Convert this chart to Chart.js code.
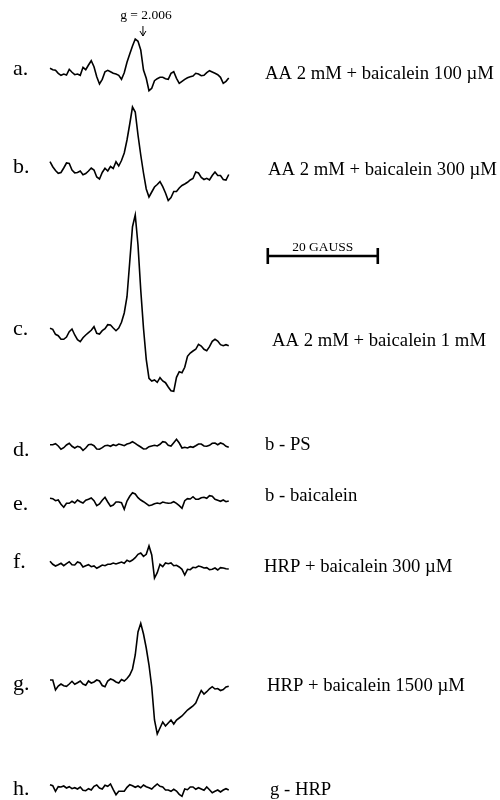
<!DOCTYPE html>
<html>
<head>
<meta charset="utf-8">
<script src="https://cdn.jsdelivr.net/npm/chart.js@4"></script>
<style>
  body { margin: 0; background: #fff; }
  canvas { display: block; }
</style>
</head>
<body>
<canvas id="eprChart" width="500" height="800"></canvas>
<script>
// magnetic field offset from start of sweep (gauss)
const field = [0, 0.5, 1, 1.5, 2, 2.5, 3, 3.5, 4, 4.5, 5, 5.5, 6, 6.5, 7, 7.5, 8, 8.5, 9, 9.5,
  10, 10.5, 11, 11.5, 12, 12.5, 13, 13.5, 14, 14.5, 15, 15.5, 16, 16.5, 17, 17.5, 18, 18.5, 19, 19.5,
  20, 20.5, 21, 21.5, 22, 22.5, 23, 23.5, 24, 24.5, 25, 25.5, 26, 26.5, 27, 27.5, 28, 28.5, 29, 29.5,
  30, 30.5, 31, 31.5, 32, 32.5];

// EPR signal (a.u.)
const specA = [3.7, 2.3, 1.7, -1.3, -3.3, -2, -3, 2.7, -0.3, -2.7, -2, -3.3, 4.7, 2.3, 7, 11.3, 5.3, -4.7, -12, -7.3,
  0.3, 1.7, 0.3, -1.3, -2, -3.3, -7.3, -0.7, 9.7, 18, 26, 33, 30.7, 22, 2, -6.3, -18.7, -16.3, -8.7, -6.7,
  -5.3, -5.3, -6.7, -7.3, -1.3, 0.3, -6.3, -11.3, -9.3, -7.3, -5.7, -4.7, -4, -1.3, -2, -3.7, -3.3, -0.7, 1.3, 0,
  -1.3, -2.7, -5.3, -11.3, -9.3, -6];
const specB = [10.3, 5.3, 1.5, -1.3, -0.5, 4, 9, 8.5, 2, -0.8, -0.5, 1, -2.7, -1.5, 1, 4, 2, -5, -7, -0.5,
  3.7, 1, 5.5, 3.5, 10.3, 6, 11.5, 19, 32, 48, 65, 60, 37, 17, -1, -17, -25, -20, -15, -12.5,
  -9.7, -14.7, -21, -28.5, -25.5, -19.5, -19.5, -16, -13.5, -12, -10.3, -8, -6.5, 0, -1, -5.5, -7.5, -6.3, -8, -3.5,
  0, -3.5, -3.5, -7.5, -8, -2.5];
const specC = [6.7, 5.7, 0.7, -0.7, -4.3, -4.3, -2, 3.3, 6, 0, -4.7, -6.7, -2.7, 0, 2.3, 4.7, 8.3, 1.7, 1, 4.3,
  6.3, 10.3, 10, 7, 4.3, 7, 12.7, 22, 38.3, 73.3, 108.3, 120, 90, 45, 6.7, -24.3, -43.3, -46, -45, -47.3,
  -42.7, -46, -47.7, -52, -55.7, -56.3, -42.3, -36.7, -37.7, -32.3, -21.3, -18, -16, -14.3, -9.3, -11, -14.3, -15.7, -11.7, -6.3,
  -4.3, -6, -9.7, -10.7, -9.7, -10.7];
const specD = [1.3, 1.3, 2.3, 0, -3.3, -1.7, 1, 2.7, -0.3, -2, -0.3, -1.3, -4.3, -2, 1.3, 1.7, 0.3, -3, -3.3, -1.7,
  0.3, 0.7, -0.3, 1.3, 0.3, 2, 1.3, 0.3, 2, 2.7, 4.3, 2.7, 0.7, -1, -3, -2.7, -0.7, 0, 0.7, 0,
  1.7, 4.3, 3.7, 0.7, 0, 3.3, 6.7, 3, -2, -1.3, -2, -0.7, -1.3, 0.3, 2, 2, 0, -0.3, 0.7, 2.7,
  3, 1.3, 3, 2, -0.3, -1.3];
const specE = [2.7, 2.3, 0.3, 1, -3.3, -6.3, -2.3, -2.3, -0.3, -2, 1, -0.7, -2, 0.7, 1.7, 3, 0.3, -4.7, -3, 0.7,
  3.7, -1, -5.3, -4, -1, -1, -1.7, -8.3, 0, 4.7, 8.3, 7, 3.3, 1, -0.7, -2.7, -4.7, -4, -2.7, -2,
  -2.7, -1, -1.7, -2.3, -2, -0.7, -2.3, -4.7, -7.3, 0.3, 2.3, 2, 4.3, 1.7, 1.7, 3.3, 3.7, 2.7, 5.3, 4.7,
  1.7, 0.7, -0.3, 1, -0.7, 0];
const specF = [4.7, 1.7, 0, 1.3, 2.7, 0.3, 2.3, 4.3, 1.3, 1, 4, 3, -1, 0.3, 1.3, -0.7, 0, -2.3, -0.7, 1,
  0.3, 1.7, 1.7, 3, 2, 3, 4, 2.7, 5.7, 4.3, 6, 8.3, 11.7, 13, 9.7, 11.7, 20, 11, -12, -6.7,
  1.7, -0.7, 3, 2.3, 3, 0.3, 0.7, -1, -3.3, -9, -3.3, -3.7, -1.3, -1.7, 0, -0.7, -2, -1.7, -3.7, -3.3,
  -2, -4, -1.7, -2, -2.7, -3];
const specG = [5, 5, -5, -1, 1, -0.7, -1.3, 1, 3.7, 0.7, 2.3, 4, 1, -0.3, 4, 2, 3, 5, 4, -0.5,
  -1.7, 4, 6, 5, 3, 2, 5.5, 4, 6.5, 10, 16, 30, 53, 61.7, 51, 37, 20, -2, -35, -49,
  -43, -37, -41, -38, -35, -39, -35, -33, -31, -28, -25, -23, -21, -18, -11.5, -5.5, -9, -6.7, -3.8, -1.7,
  -4, -3.5, -5.5, -4.5, -2, -1.2];
const specH = [4.3, 3.3, -2.3, 2.3, 2, 3, 1, 2.3, 0.3, 1.3, 0, 2, -1.3, -1.7, 0.3, -1, 2.7, 4, 1, 0,
  3.7, 2.7, 5, -0.7, -5.7, -2.3, -2.3, -2.3, 1.7, 4.3, 3.3, 1.7, 3, 1.3, 4, 2.3, 1.3, 0, 2.7, 5,
  2.7, 2, -1, -1, -2.3, -0.3, -2, -5.3, -7.3, 0, -0.7, 2, 2, -0.3, 1.3, 0, -1.3, 2, -0.7, -3.7,
  -2.3, -1, -3, -1, 0.3, -1];

const spectra = [specA, specB, specC, specD, specE, specF, specG, specH];
const letters = ['a.', 'b.', 'c.', 'd.', 'e.', 'f.', 'g.', 'h.'];
const notes = [
  'AA 2 mM + baicalein 100 \u00b5M',
  'AA 2 mM + baicalein 300 \u00b5M',
  'AA 2 mM + baicalein 1 mM',
  'b - PS',
  'b - baicalein',
  'HRP + baicalein 300 \u00b5M',
  'HRP + baicalein 1500 \u00b5M',
  'g - HRP'
];

// layout: vertical offset of each trace and pixel spots for the text
const baselines = [728, 628, 465, 354, 299, 234, 115, 11];
const letterY = [75, 173, 335, 456, 510, 568, 690, 795];
const noteX = [265, 268, 272, 265, 265, 264, 267, 270];
const noteY = [79, 175, 346, 450, 501, 572, 691, 795];
const barStart = 39.6;   // gauss
const barLength = 20;    // gauss
const gMarkField = 16.9; // gauss, g = 2.006

const datasets = spectra.map((s, k) => ({
  data: s.map((v, i) => ({ x: field[i], y: baselines[k] + v })),
  borderColor: '#000',
  borderWidth: 1.6,
  pointRadius: 0,
  tension: 0,
  fill: false
}));

const annotations = {
  id: 'annotations',
  afterDraw(chart) {
    const ctx = chart.ctx;
    const xs = chart.scales.x;
    ctx.save();
    ctx.fillStyle = '#000';
    ctx.strokeStyle = '#000';
    ctx.textBaseline = 'alphabetic';

    ctx.font = '22px "Liberation Serif", serif';
    letters.forEach((t, k) => ctx.fillText(t, 13, letterY[k]));

    ctx.font = '18.7px "Liberation Serif", serif';
    notes.forEach((t, k) => ctx.fillText(t, noteX[k], noteY[k]));

    // 20 gauss scale bar
    const x0 = xs.getPixelForValue(barStart);
    const x1 = xs.getPixelForValue(barStart + barLength);
    ctx.lineWidth = 2.6;
    ctx.beginPath();
    ctx.moveTo(x0, 256); ctx.lineTo(x1, 256);
    ctx.moveTo(x0, 248); ctx.lineTo(x0, 264);
    ctx.moveTo(x1, 248); ctx.lineTo(x1, 264);
    ctx.stroke();
    ctx.font = '13.5px "Liberation Serif", serif';
    ctx.textAlign = 'center';
    ctx.fillText('20 GAUSS', (x0 + x1) / 2, 251);

    // g-value marker
    const gx = xs.getPixelForValue(gMarkField);
    ctx.font = '13.5px "Liberation Serif", serif';
    ctx.fillText('g = 2.006', gx + 3, 19);
    ctx.lineWidth = 1;
    ctx.beginPath();
    ctx.moveTo(gx, 26); ctx.lineTo(gx, 36);
    ctx.moveTo(gx - 3, 31); ctx.lineTo(gx, 36); ctx.lineTo(gx + 3, 31);
    ctx.stroke();
    ctx.restore();
  }
};

new Chart(document.getElementById('eprChart').getContext('2d'), {
  type: 'line',
  data: { datasets: datasets },
  options: {
    responsive: false,
    animation: false,
    layout: { padding: 0 },
    plugins: {
      legend: { display: false },
      tooltip: { enabled: false }
    },
    scales: {
      x: { type: 'linear', min: -9.09, max: 81.82, display: false },
      y: { min: 0, max: 800, display: false }
    }
  },
  plugins: [annotations]
});
</script>
</body>
</html>
